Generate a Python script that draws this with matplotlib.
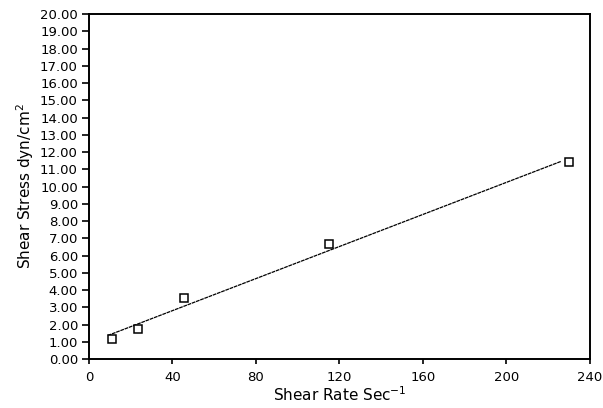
import matplotlib
matplotlib.use("Agg")
import matplotlib.pyplot as plt
import numpy as np

# measured points
shear_rate = np.array([10.9, 23.4, 45.6, 114.9, 230.0])
shear_stress = np.array([1.15, 1.73, 3.53, 6.67, 11.4])

# range of the fitted line
fit_range = np.array([9.0, 226.0])

y_ticks = np.arange(0, 21, 1)
x_ticks = np.arange(0, 241, 40)

plt.rcParams['font.family'] = ['DejaVu Sans']

fig = plt.figure(figsize=(6.03, 4.08), dpi=100)
ax = fig.add_axes([0.1476, 0.120, 0.8308, 0.8456])

slope, intercept = np.polyfit(shear_rate, shear_stress, 1)
ax.plot(fit_range, slope * fit_range + intercept, color='black', lw=0.9,
        linestyle=(0, (3, 0.6)))
ax.plot(shear_rate, shear_stress, linestyle='none', marker='s', ms=5.5,
        mfc='white', mec='black', mew=1.1)

ax.set_xlim(0, 240)
ax.set_ylim(0, 20)
ax.set_xticks(x_ticks)
ax.set_yticks(y_ticks)
ax.set_yticklabels([f"{v:.2f}" for v in y_ticks])

for s in ax.spines.values():
    s.set_linewidth(1.4)
ax.tick_params(direction='out', width=1.2, labelsize=9.5)
ax.tick_params(axis='y', length=5, pad=3)
ax.tick_params(axis='x', length=3.5, pad=5)

ax.set_xlabel('Shear Rate Sec$^{-1}$', fontsize=11, labelpad=1)
ax.set_ylabel('Shear Stress dyn/cm$^{2}$', fontsize=11, labelpad=3)

fig.savefig('out.png', dpi=100)
